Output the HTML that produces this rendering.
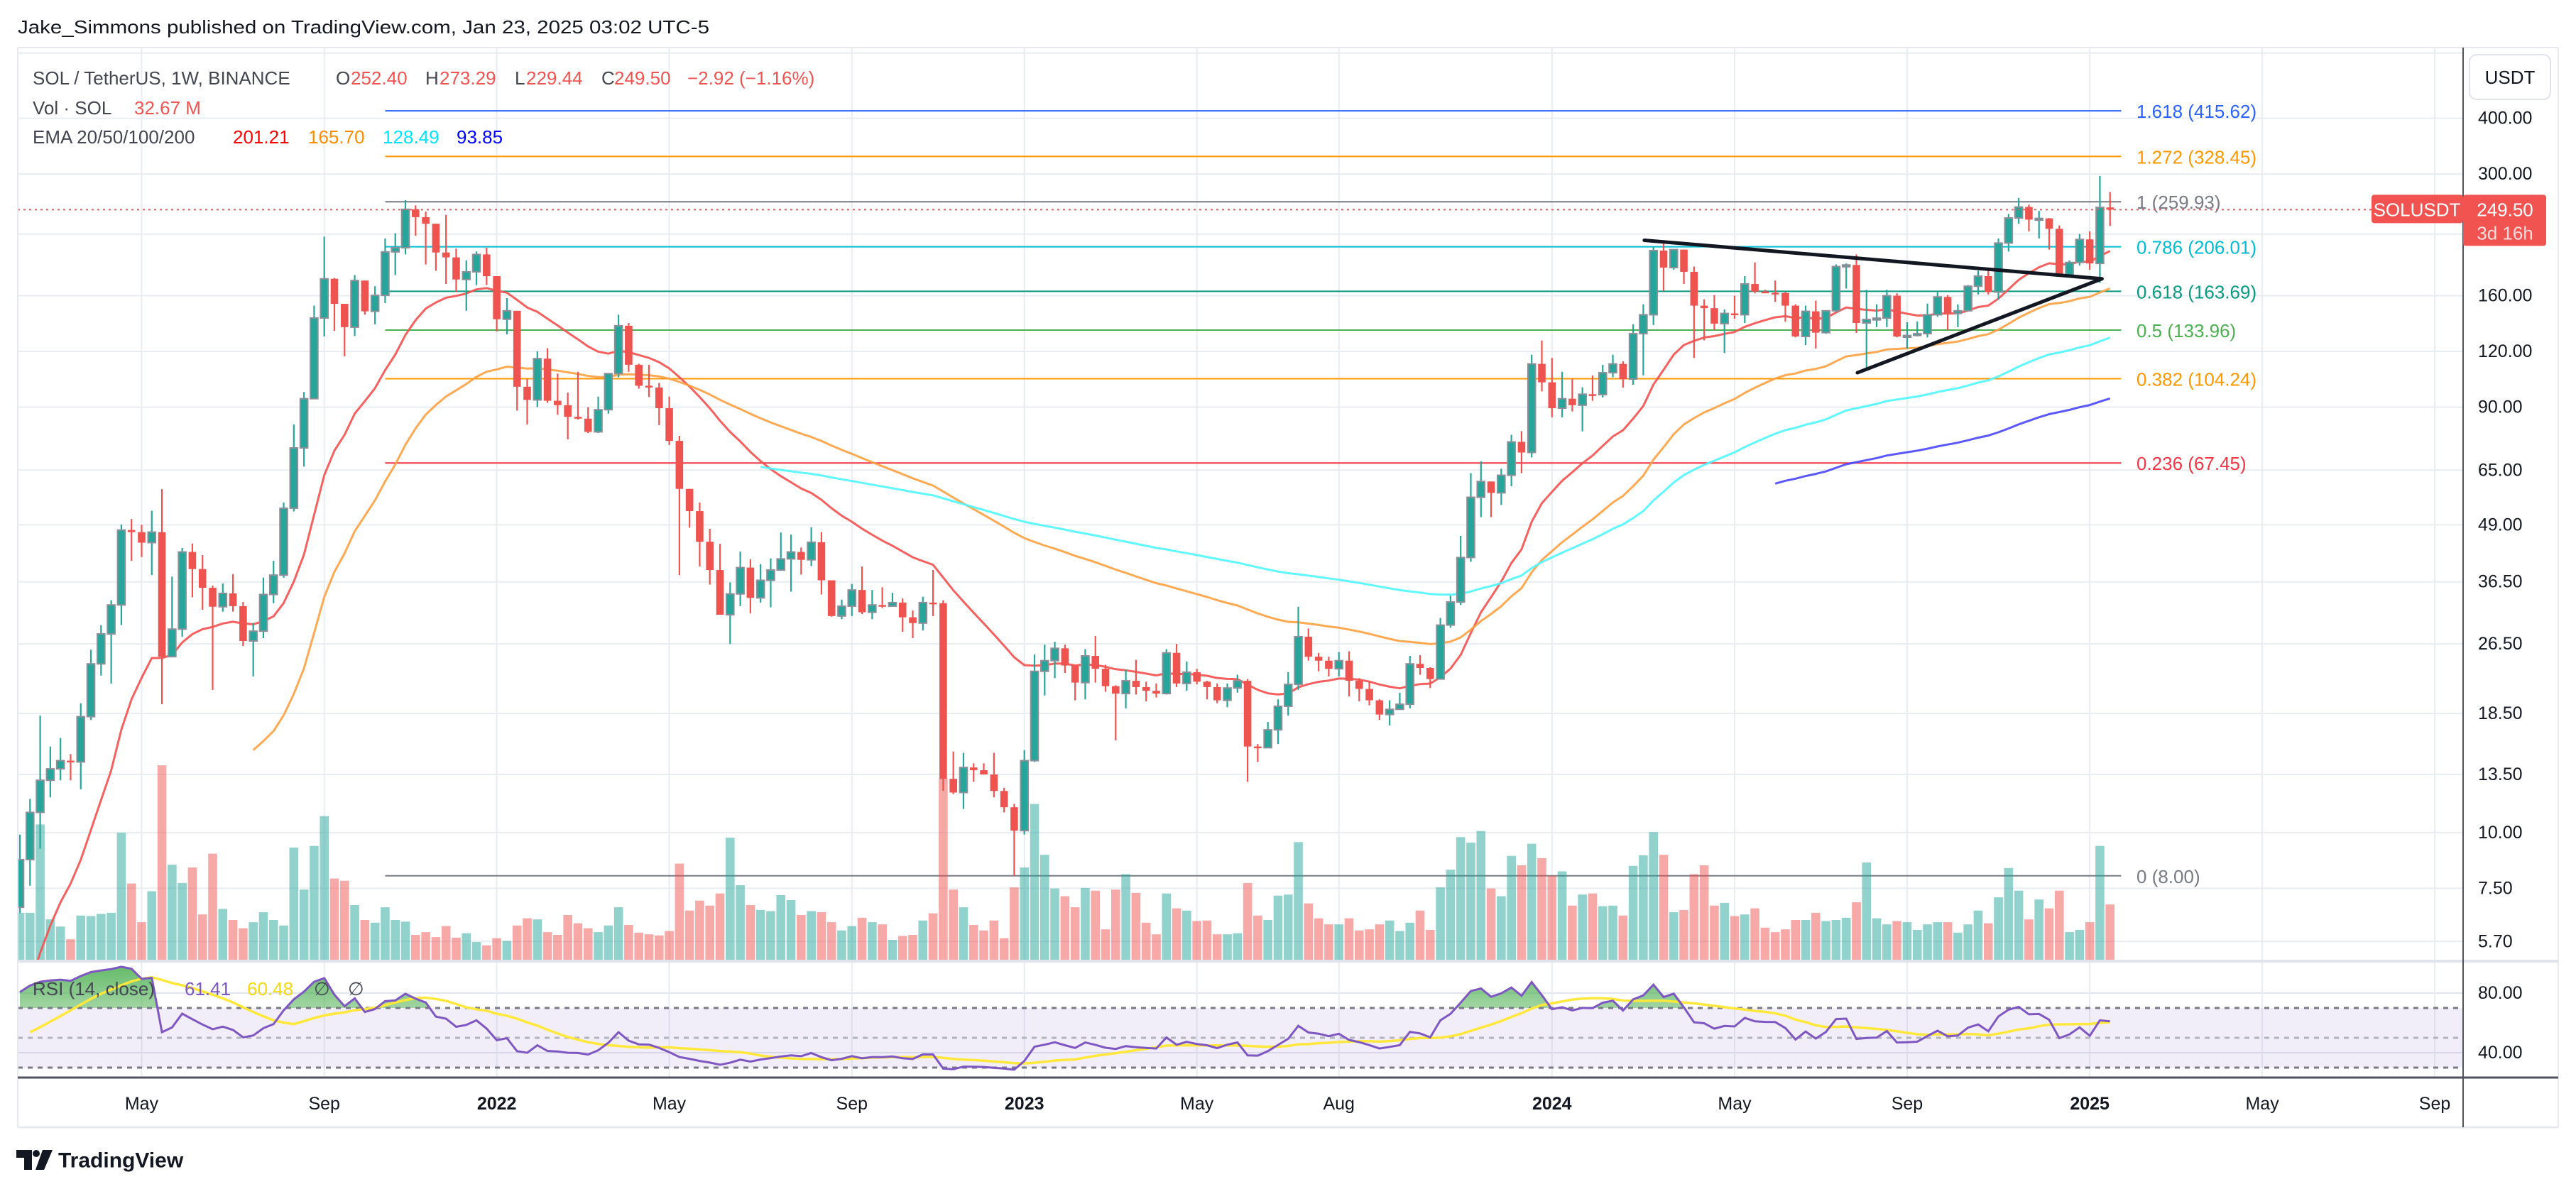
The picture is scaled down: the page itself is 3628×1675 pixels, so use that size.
<!DOCTYPE html>
<html><head><meta charset="utf-8">
<style>
html,body{margin:0;padding:0;background:#fff;}
svg{display:block;font-family:"Liberation Sans",sans-serif;}
</style></head>
<body>
<svg id="chart" width="3628" height="1675" viewBox="0 0 3628 1675" xmlns="http://www.w3.org/2000/svg">
  <defs>
    <clipPath id="mainClip"><rect x="25" y="68" width="3444" height="1285"/></clipPath>
    <clipPath id="rsiClip"><rect x="25" y="1356" width="3444" height="160"/></clipPath>
    <clipPath id="obClip"><rect x="25" y="1356" width="3444" height="64"/></clipPath>
    <linearGradient id="obGrad" x1="0" y1="0" x2="0" y2="1">
      <stop offset="0" stop-color="#4caf50" stop-opacity="0.85"/>
      <stop offset="1" stop-color="#4caf50" stop-opacity="0.05"/>
    </linearGradient>
  </defs>
  <rect x="0" y="0" width="3628" height="1675" fill="#fff"/>
  <text x="25" y="38" font-size="26" fill="#131722" dominant-baseline="central" textLength="974" lengthAdjust="spacingAndGlyphs">Jake_Simmons published on TradingView.com, Jan 23, 2025 03:02 UTC-5</text>
  <g id="grid"></g>
  <rect x="25" y="1420" width="3444" height="84" fill="#7e57c2" fill-opacity="0.1"/>
  <g id="fib"></g>
  <g id="vol" clip-path="url(#mainClip)"></g>
  <g id="ema" clip-path="url(#mainClip)"></g>
  <g id="candles" clip-path="url(#mainClip)"></g>
  <g id="trend"></g>
  <g id="rsi"></g>
  <g id="axes"></g>
  <g id="legend" font-size="26"></g>
</svg>
<script>
var preCloses=[3.3,4.2,3.7,4.4,3.1,2.9,3.3,2.9,2.6,2.4,2.3,2.1,1.9,2.2,1.9,1.7,1.6,1.5,1.6,1.8,2.5,3.4,3.6,3.9,4.5,6.8];
var closes=[8.7,11.1,13.1,13.9,14.5,14.4,18.2,23.9,27.9,32.4,
47.7,47.2,44.7,47.2,24.8,28.6,42.6,39.0,35.4,32.1,
34.4,32.2,26.9,28.3,34.2,37.8,53.4,72.9,94.0,142.6,
174.6,153.4,136,173,147.6,160.3,200.6,205,250,240,
232,200,195,174,181,198,177,141.7,148,100,
93.4,115.6,93,90.9,85.6,84.8,79.2,88.8,107,137,
112,100.5,99.6,89.5,75.6,59,52.6,44.9,38.8,30.8,
34.3,39.3,33.6,36.8,38.8,41.1,42.6,40.9,44.8,36.8,
30.6,32.2,35,31.2,32.4,32.2,32.8,30.4,29.5,32.8,
32.7,13.2,12.3,14.0,13.8,13.5,12.4,11.4,10.1,14.5,
23.0,24.3,25.9,23.7,21.7,24.9,23.3,21.3,20.5,21.9,
21.2,20.8,20.5,25.3,21.6,22.9,21.8,21.2,19.8,21.1,
21.9,15.6,15.5,17.0,19.2,21.5,27.5,24.8,24.3,23.3,
24.3,21.9,21.0,19.8,18.4,18.9,19.4,23.9,23.4,22.1,
29.2,32.9,41.4,56.5,61.3,57.8,63.3,75.2,71.2,112.5,
102.3,89.5,94.0,90.9,96.2,96.0,107.5,112.5,104,131.5,
145,202,185,203,181,152,150,138.5,146,145,
170,163.5,162.5,162.3,152,129.6,147.6,132.2,148,186,
187.5,139,141.5,142.5,160,129.6,130.3,131.5,145,159,
146,148,168,177,163,210,239,253,237,238.5,
226,178,190,214,189,252.4,249.5];
var highs=[9.9,11.9,18.3,15.6,16.3,15.0,19.5,25.7,29.2,33.2,
49.1,50.5,49,52.7,58.9,37.5,43.5,44.5,41.9,35.8,
36.2,38.0,32.9,29.5,37.3,40.7,55.0,82.3,97.3,152,
217,175.5,153.4,178,173,168,215,221,262,255,
247,232,243,204,192,201,205,177,158,148,
104,120,122,107,97,108,90,95,107,145,
139,112.6,112,102,95,77.6,59,55,48,44.4,
36.4,42.7,41,40,41.2,47.1,46.6,43.6,48.4,47.2,
36.8,33.3,36.1,39.5,35,35.5,34.5,33.5,31.5,33.8,
38.8,33.2,15.2,15.1,14.3,14.3,15.1,12.6,11.6,15.3,
25.1,26.4,26.8,26.4,23.5,25.8,27.6,23.8,21.4,23.2,
24.4,21.8,21.6,25.8,26.5,24.2,23.3,21.9,21.6,21.6,
22.6,22.1,15.8,17.7,19.9,22.9,32.1,28.7,25.3,24.8,
25.4,25.5,22.2,21.9,19.9,19.8,20.6,24.9,25.0,23.5,
30.3,34,46.3,64.0,68.0,61.3,65.5,78.0,79.5,118,
127,116,108,104,99.7,106,112,118,114,138,
153,206,210,203,203,186,157,160.5,149,160,
177,190,165,173,163,153,152,156,148.5,188,
189,198,165,153,165,162,139.5,140,153.6,163,
160.5,153,169,182,184,215,244,265,256,248,
239,230,192,220,223,297,273.29];
var lows=[6.6,7.6,9.2,12.0,13.1,13.1,12.5,17.9,22.5,21.6,
29.2,40.7,41.5,37.8,19.4,24.8,27.5,33.7,31.6,20.9,
31.3,31.3,26.2,22.4,27.3,32.7,37.3,52.5,66.2,93.8,
129.7,133.5,117,130,145,138,154,178,198,218,
188,182,170,163,148,169,169,133,131,88.4,
82.3,90,92,86.5,76.2,84.4,78.7,78.7,87,105,
108,99,94.8,82,74,37.8,48.3,39.5,36,30.8,
26.5,32.2,31,32.8,32,38.8,34.7,37.9,39.6,34.2,
30.5,30.1,30.6,30.9,30.1,31.9,32.2,28.2,27.3,28.4,
30.6,12.4,12.2,11.3,13.0,13.5,12.0,11.1,8.0,9.9,
14.4,20.3,22.2,22.8,19.8,19.9,21.7,20.7,16.1,19.0,
20.4,19.7,20.1,20.4,21.2,20.8,21.5,19.9,19.5,19.1,
20.6,13.0,14.4,15.5,15.8,18.3,20.9,24.3,23.0,22.4,
22.4,20.2,19.7,19.3,17.9,17.4,18.9,19.0,22.6,21.1,
22.1,28.8,32.4,40.5,51.0,51.0,54.3,59.8,64,69.4,
97.6,85.4,85.4,88,79.4,93,94.6,105,99.5,101,
106,137.5,164,183,170,116,127,134,119,142,
139,162,162,155,140,129,124,121.8,131.5,147,
166,132,110,136,136,129,121.7,129.6,129,143.5,
134,136,148,161,161,157,201,232,223,215,
203,177,178,187,183,171,229.44];
var volumes=[85,85,245,73,60,37,80,79,83,85,
230,138,68,124,352,172,139,167,82,192,
92,72,57,68,86,72,62,203,127,206,
260,147,143,99,72,67,95,72,69,45,
50,41,61,40,48,32,26,39,34,62,
75,73,50,45,81,66,57,50,62,95,
63,49,46,44,52,174,89,107,98,120,
221,135,99,90,88,117,108,81,88,86,
68,53,61,76,68,64,36,43,45,71,
84,328,127,95,63,53,71,39,131,167,
282,190,129,115,95,130,125,55,127,155,
121,67,46,120,93,89,70,71,46,46,
48,139,80,72,116,118,213,102,75,64,
64,75,53,55,64,71,52,67,89,54,
131,163,222,212,233,129,115,188,171,210,
184,152,160,98,118,120,97,98,80,170,
189,231,190,86,90,155,171,98,103,79,
82,93,58,50,55,72,72,85,70,72,
76,104,176,75,64,70,68,54,64,68,
68,49,64,89,66,113,166,125,73,109,
93,125,50,54,68,206,100];
var priceTicks=[560,400,300,220,160,120,90,65,49,36.5,26.5,18.5,13.5,10,7.5,5.7];
var priceTickLabels=["","400.00","300.00","","160.00","120.00","90.00","65.00","49.00","36.50","26.50","18.50","13.50","10.00","7.50","5.70"];
var tickWeeks=[12,30,47,64,82,99,116,130,151,169,186,204,221,238];
var tickLabels=["May","Sep","2022","May","Sep","2023","May","Aug","2024","May","Sep","2025","May","Sep"];
var fibRatios=["1.618","1.272","1","0.786","0.618","0.5","0.382","0.236","0"];
var fibPrices=[415.62,328.45,259.93,206.01,163.69,133.96,104.24,67.45,8.00];
var fibColors=["#2962ff","#ff9800","#787b86","#00bcd4","#089981","#4caf50","#ff9800","#f23645","#787b86"];
var fibStartWeek=36, fibEndWeek=207.1;
var trendWeeks1=[160.1,205.2], trendPrices1=[213,174.6];
var trendWeeks2=[181.1,205.2], trendPrices2=[107.5,174.6];
var lastPrice=249.50;
var emaPeriods=[20,50,100,200];
var emaColors=["#f5504f","#ffa040","#4ff6ff","#4a46ff"];

var NS="http://www.w3.org/2000/svg";
var W=14.29, X0=28, PX1=3469;
function xi(i){return X0+W*i;}
function py(p){return 166.6+272.8*Math.log(400/p);}
function vy(v){return 1352-v*0.778;}
function ry(v){return 1399+(80-v)*2.1;}
function mk(tag,attrs,parent,txt){var e=document.createElementNS(NS,tag);for(var k in attrs)e.setAttribute(k,attrs[k]);if(txt!==undefined)e.textContent=txt;parent.appendChild(e);return e;}

var grid=document.getElementById('grid');
priceTicks.forEach(function(p){
  var l=mk('line',{x1:25,x2:PX1,y1:py(p),y2:py(p),stroke:'#e8edf2','stroke-width':2},grid);
  
  
});
[80,40].forEach(function(v){
  var l=mk('line',{x1:25,x2:PX1,y1:ry(v),y2:ry(v),stroke:'#e1e6ee','stroke-width':2},grid);
  
  
});
tickWeeks.forEach(function(w){
  var l=mk('line',{x1:xi(w),x2:xi(w),y1:68,y2:1518,stroke:'#e8edf2','stroke-width':2},grid);
  
  
});

var fib=document.getElementById('fib');
fibPrices.forEach(function(p,k){
  var y=py(p);
  var l=mk('line',{x1:xi(fibStartWeek),x2:xi(fibEndWeek),y1:y,y2:y,stroke:fibColors[k],'stroke-width':2},fib);
  
  
  var t=mk('text',{x:3009,y:y+1,fill:fibColors[k],'font-size':26,'dominant-baseline':'central'},fib,fibRatios[k]+' ('+p.toFixed(2)+')');
  
  
});

var opens=closes.map(function(c,i){return i===0?preCloses[preCloses.length-1]:closes[i-1];});

var vol=document.getElementById('vol');
volumes.forEach(function(v,i){
  var up=closes[i]>=opens[i];
  var r=mk('rect',{x:xi(i)-6.3,y:vy(v),width:12.6,height:1352-vy(v),fill:up?'#26a69a':'#ef5350','fill-opacity':0.5},vol);
  
  
});

var all=preCloses.concat(closes), off=preCloses.length;
function ema(n){var out=[],s=0,a=2/(n+1),prev=null;for(var k=0;k<all.length;k++){if(k<n-1){s+=all[k];out.push(null);}else if(k===n-1){s+=all[k];prev=s/n;out.push(prev);}else{prev=a*all[k]+(1-a)*prev;out.push(prev);}}return out;}
var emaG=document.getElementById('ema');
emaPeriods.forEach(function(n,j){
  var e=ema(n),pts=[];
  for(var k=0;k<e.length;k++){if(e[k]!==null){pts.push(xi(k-off).toFixed(1)+','+py(e[k]).toFixed(1));}}
  var pl=mk('polyline',{points:pts.join(' '),fill:'none',stroke:emaColors[j],'stroke-width':3,'stroke-opacity':0.9,'stroke-linejoin':'round'},emaG);
  
  
});

var cg=document.getElementById('candles');
closes.forEach(function(c,i){
  var o=opens[i],up=c>=o,col=up?'#26a69a':'#ef5350',x=xi(i);
  var g=mk('g',{},cg);
  
  
  mk('line',{x1:x,x2:x,y1:py(highs[i]),y2:py(lows[i]),stroke:col,'stroke-width':2.2},g);
  var top=py(Math.max(o,c)),bot=py(Math.min(o,c)),h=Math.max(bot-top,2.5);
  var attrs={x:x-5.3,y:top,width:10.6,height:h,fill:col};
  if(up){attrs.stroke='#8c8f98';attrs['stroke-width']=2;}
  mk('rect',attrs,g);
});

var tr=document.getElementById('trend');
[[trendWeeks1,trendPrices1],[trendWeeks2,trendPrices2]].forEach(function(d){
  var l=mk('line',{x1:xi(d[0][0]),y1:py(d[1][0]),x2:xi(d[0][1]),y2:py(d[1][1]),stroke:'#131722','stroke-width':5,'stroke-linecap':'round'},tr);
  
  
});
var pl=mk('line',{x1:25,x2:3340,y1:py(lastPrice),y2:py(lastPrice),stroke:'#f05350','stroke-width':2,'stroke-dasharray':'3 5'},tr);



var rsiG=document.getElementById('rsi');
var rsi=[],avgU=0,avgD=0;
for(var k=0;k<all.length;k++){
  if(k===0){rsi.push(null);continue;}
  var ch=all[k]-all[k-1],u=Math.max(ch,0),d=Math.max(-ch,0);
  if(k<14){avgU+=u;avgD+=d;rsi.push(null);}
  else if(k===14){avgU=(avgU+u)/14;avgD=(avgD+d)/14;rsi.push(avgD===0?100:100-100/(1+avgU/avgD));}
  else{avgU=(avgU*13+u)/14;avgD=(avgD*13+d)/14;rsi.push(avgD===0?100:100-100/(1+avgU/avgD));}
}
var sig=[];
for(var k=0;k<rsi.length;k++){var s=0,c=0;for(var m=k-13;m<=k;m++){if(m>=0&&rsi[m]!==null){s+=rsi[m];c++;}}sig.push(c===14?s/14:null);}
var rpts=[],spts=[];
for(var k=0;k<rsi.length;k++){
  var x=xi(k-off);
  if(rsi[k]!==null&&x>20)rpts.push([x,ry(rsi[k])]);
  if(sig[k]!==null&&x>20)spts.push([x,ry(sig[k])]);
}
var area=rpts.map(function(p){return p[0].toFixed(1)+','+p[1].toFixed(1);});
area.push(rpts[rpts.length-1][0].toFixed(1)+',1420');area.push(rpts[0][0].toFixed(1)+',1420');
var ob=mk('polygon',{points:area.join(' '),fill:'url(#obGrad)','clip-path':'url(#obClip)'},rsiG);


[[70,'#787b86'],[50,'#b2b5be'],[30,'#787b86']].forEach(function(d){
  var l=mk('line',{x1:25,x2:PX1,y1:ry(d[0]),y2:ry(d[0]),stroke:d[1],'stroke-width':3,'stroke-dasharray':'7 7'},rsiG);
  
  
});
var sl=mk('polyline',{points:spts.map(function(p){return p[0].toFixed(1)+','+p[1].toFixed(1);}).join(' '),fill:'none',stroke:'#ffe83b','stroke-width':3.5,'clip-path':'url(#rsiClip)'},rsiG);


var rl=mk('polyline',{points:rpts.map(function(p){return p[0].toFixed(1)+','+p[1].toFixed(1);}).join(' '),fill:'none',stroke:'#7e57c2','stroke-width':3,'clip-path':'url(#rsiClip)'},rsiG);



var ax=document.getElementById('axes');
mk('line',{x1:25,x2:3603,y1:67,y2:67,stroke:'#e6e9ef','stroke-width':2},ax);
mk('line',{x1:25,x2:25,y1:67,y2:1588,stroke:'#e6e9ef','stroke-width':2},ax);
mk('line',{x1:3603,x2:3603,y1:67,y2:1588,stroke:'#e6e9ef','stroke-width':2},ax);
mk('line',{x1:25,x2:3603,y1:1588,y2:1588,stroke:'#e6e9ef','stroke-width':3},ax);
mk('line',{x1:25,x2:PX1,y1:1354,y2:1354,stroke:'#e0e3eb','stroke-width':4},ax);
mk('line',{x1:PX1,x2:3603,y1:1354,y2:1354,stroke:'#e0e3eb','stroke-width':4},ax);
mk('line',{x1:25,x2:3603,y1:1518,y2:1518,stroke:'#50535e','stroke-width':3},ax);
mk('line',{x1:PX1,x2:PX1,y1:67,y2:1588,stroke:'#50535e','stroke-width':2},ax);
priceTicks.forEach(function(p,k){
  if(!priceTickLabels[k])return;
  var t=mk('text',{x:3490,y:py(p),fill:'#131722','font-size':25,'dominant-baseline':'central'},ax,priceTickLabels[k]);
  
  
});
[[80,'80.00'],[40,'40.00']].forEach(function(d){
  var t=mk('text',{x:3490,y:ry(d[0]),fill:'#131722','font-size':25,'dominant-baseline':'central'},ax,d[1]);
  
  
});
tickWeeks.forEach(function(w,k){
  var yr=/^\d{4}$/.test(tickLabels[k]);
  var t=mk('text',{x:xi(w),y:1555,fill:'#131722','font-size':25,'font-weight':yr?'bold':'normal','text-anchor':'middle','dominant-baseline':'central'},ax,tickLabels[k]);
  
  
});
var ub=mk('rect',{x:3478,y:77,width:114,height:63,rx:10,fill:'#fff',stroke:'#e0e3eb','stroke-width':2},ax);


mk('text',{x:3535,y:109,fill:'#131722','font-size':26,'text-anchor':'middle','dominant-baseline':'central'},ax,'USDT');
var yl=py(lastPrice);
var sb=mk('rect',{x:3340,y:yl-21,width:129,height:40,rx:4,fill:'#f05350'},ax);


mk('text',{x:3404,y:yl,fill:'#fff','font-size':26,'text-anchor':'middle','dominant-baseline':'central'},ax,'SOLUSDT');
var pb=mk('rect',{x:3469,y:yl-21,width:117,height:72,rx:4,fill:'#f05350'},ax);


mk('text',{x:3528,y:yl,fill:'#fff','font-size':26,'text-anchor':'middle','dominant-baseline':'central'},ax,lastPrice.toFixed(2));
mk('text',{x:3528,y:yl+33,fill:'#ffdcdb','font-size':26,'text-anchor':'middle','dominant-baseline':'central'},ax,'3d 16h');

var lg=document.getElementById('legend');
function lt(x,y,txt,col,name){var t=mk('text',{x:x,y:y,fill:col,'dominant-baseline':'central'},lg,txt);return t;}
lt(46,110,'SOL / TetherUS, 1W, BINANCE','#434651','symbol-title');
lt(473,110,'O','#434651','open-label');lt(494,110,'252.40','#f05350','open-value');
lt(599,110,'H','#434651','high-label');lt(619,110,'273.29','#f05350','high-value');
lt(725,110,'L','#434651','low-label');lt(741,110,'229.44','#f05350','low-value');
lt(847,110,'C','#434651','close-label');lt(865,110,'249.50','#f05350','close-value');
lt(968,110,'\u22122.92 (\u22121.16%)','#f05350','change-value');
lt(46,152,'Vol \u00b7 SOL','#434651','volume-label');lt(189,152,'32.67 M','#f05350','volume-value');
lt(46,193,'EMA 20/50/100/200','#434651','ema-label');
lt(328,193,'201.21','#ff0000','ema20-value');lt(434,193,'165.70','#ff8c00','ema50-value');
lt(539,193,'128.49','#00e5ff','ema100-value');lt(643,193,'93.85','#0000ff','ema200-value');
lt(46,1393,'RSI (14, close)','#434651','rsi-label');
lt(260,1393,'61.41','#7e57c2','rsi-value');
lt(348,1393,'60.48','#f5d90a','rsi-signal-value');
lt(442,1393,'\u2205','#434651','rsi-na-1');lt(490,1393,'\u2205','#434651','rsi-na-2');

var lo=mk('g',{},document.getElementById('chart'));


mk('path',{d:'M23 1620 h22 v28 h-11 v-17 h-11 z',fill:'#131722'},lo);
mk('circle',{cx:51,cy:1625,r:5,fill:'#131722'},lo);
mk('path',{d:'M60 1620 h14 l-12 28 h-12 z',fill:'#131722'},lo);
mk('text',{x:82,y:1635,fill:'#131722','font-size':30,'font-weight':'bold','dominant-baseline':'central'},lo,'TradingView');
</script>
</body></html>
